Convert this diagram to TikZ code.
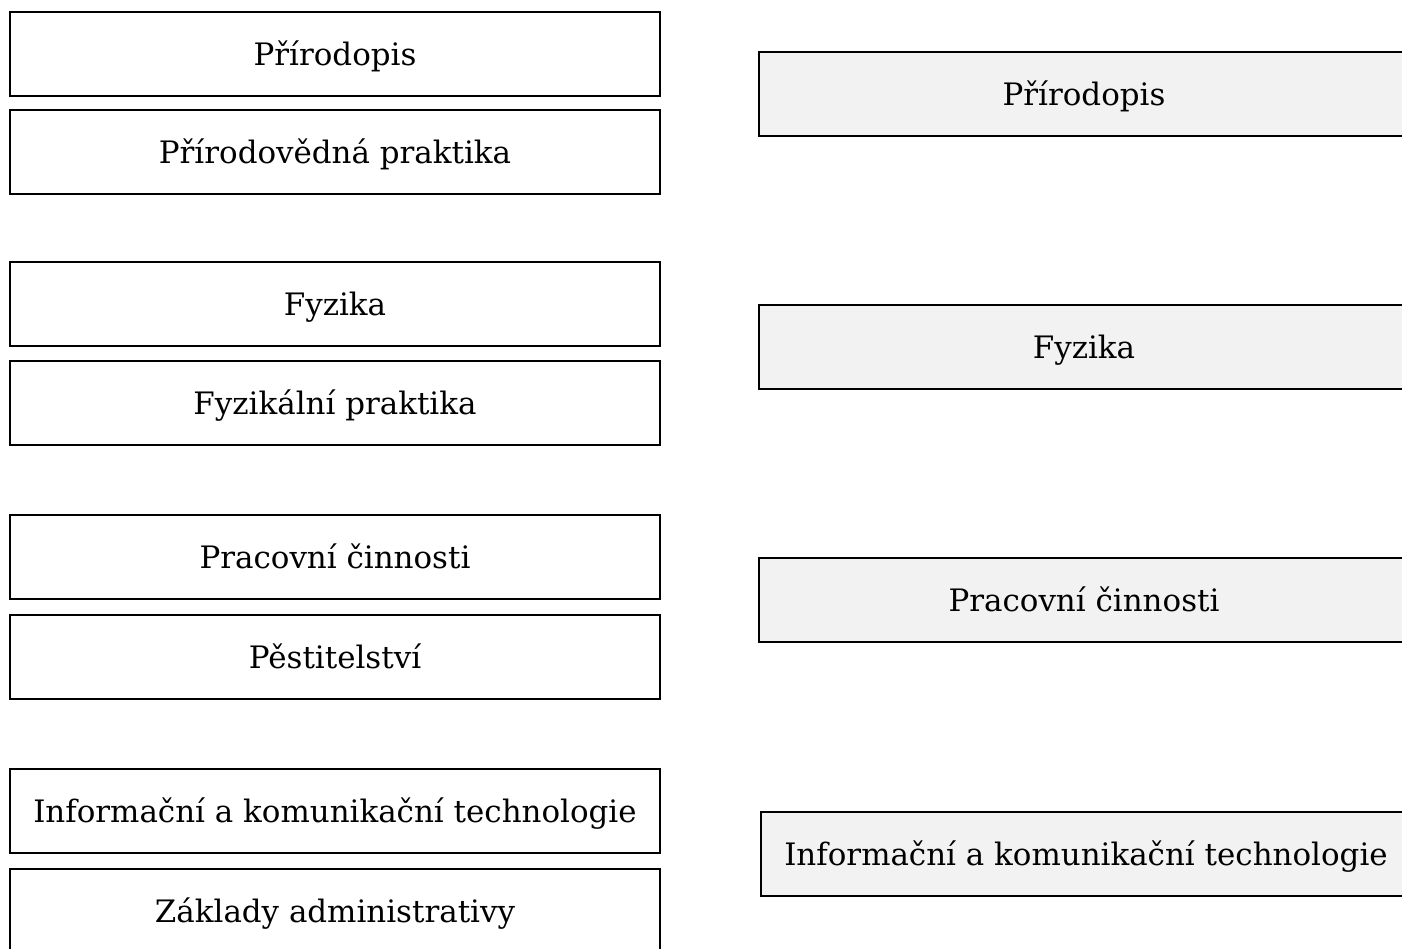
\documentclass[tikz,border=0pt]{standalone}
\usepackage{fontspec}
\setmainfont{DejaVu Serif}
\usepackage{xcolor}
\usepackage{tikz}
\definecolor{boxgray}{HTML}{F2F2F2}
\tikzset{
  subj/.style={draw=black, line width=1.6pt, minimum width=13cm, minimum height=1.68cm,
    inner sep=0pt, text height=17pt, text depth=3.4pt, font=\fontsize{17.6}{21}\selectfont},
  subjold/.style={subj, fill=white},
  subjnew/.style={subj, fill=boxgray}
}

\begin{document}
\begin{tikzpicture}[x=0.02cm, y=-0.02cm]
\clip (0,0) rectangle (1402,949);
\fill[white] (0,0) rectangle (1402,949);

% left column
\node[subjold] (prir) at (335,54) {Přírodopis};
\node[subjold] (prirprak) at (335,152) {Přírodovědná praktika};
\node[subjold] (fyz) at (335,304) {Fyzika};
\node[subjold] (fyzprak) at (335,403) {Fyzikální praktika};
\node[subjold] (prac) at (335,557) {Pracovní činnosti};
\node[subjold] (pest) at (335,657) {Pěstitelství};
\node[subjold] (ikt) at (335,811) {Informační a komunikační technologie};
\node[subjold] (admin) at (335,911) {Základy administrativy};

% right column
\node[subjnew] (prirN) at (1084,94) {Přírodopis};
\node[subjnew] (fyzN) at (1084,347) {Fyzika};
\node[subjnew] (pracN) at (1084,600) {Pracovní činnosti};
\node[subjnew] (iktN) at (1086,854) {Informační a komunikační technologie};
\end{tikzpicture}
\end{document}
